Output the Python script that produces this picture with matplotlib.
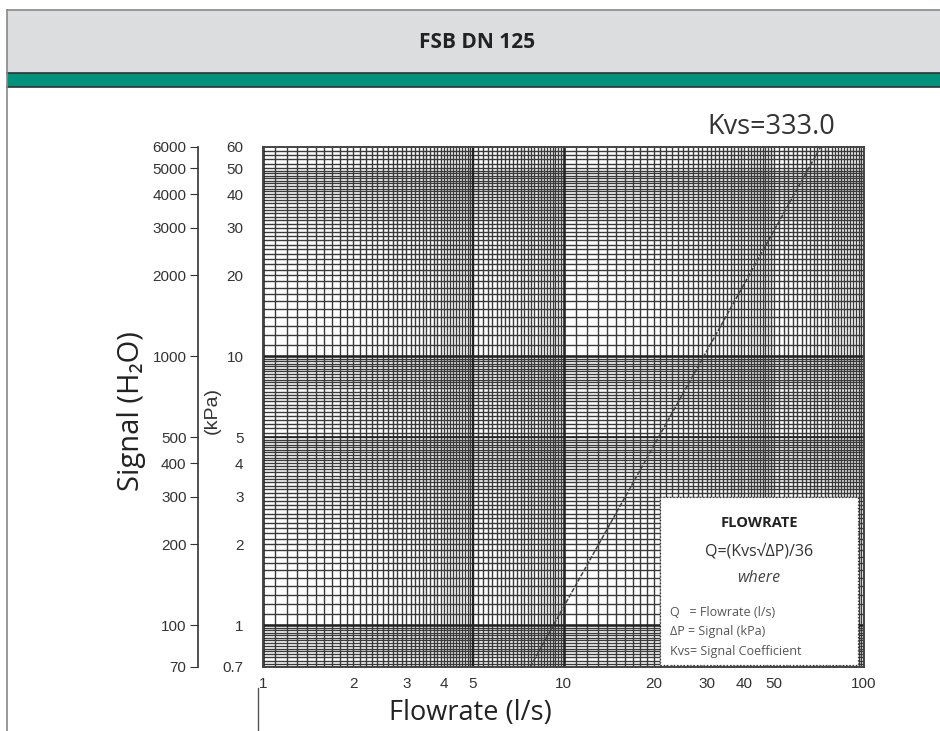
import numpy as np
import matplotlib
matplotlib.use("Agg")
import matplotlib.pyplot as plt
from matplotlib.patches import Rectangle

# --- chart values ---
x_ticks = [1, 2, 3, 4, 5, 10, 20, 30, 40, 50, 100]
kpa_ticks = [0.7, 1, 2, 3, 4, 5, 10, 20, 30, 40, 50, 60]
kpa_labels = ["0.7", "1", "2", "3", "4", "5", "10", "20", "30", "40", "50", "60"]
h2o_ticks = [70, 100, 200, 300, 400, 500, 1000, 2000, 3000, 4000, 5000, 6000]

# Kvs = 333.0 curve
line_signal = [0.7, 1, 10, 60]        # kPa
line_flow = [7.75, 9.25, 29.3, 71.7]  # l/s

title = "FSB DN 125"
kvs_text = "Kvs=333.0"

W, H = 940, 731
fig = plt.figure(figsize=(W / 100, H / 100), dpi=100)

def fx(px):
    return px / W

def fy(py):
    return 1 - py / H

# header band
fig.patches.append(Rectangle((fx(7), fy(73)), 1, (73 - 10) / H, transform=fig.transFigure,
                             facecolor="#dcdddf", edgecolor="none"))
fig.patches.append(Rectangle((fx(7), fy(87)), 1, (87 - 73) / H, transform=fig.transFigure,
                             facecolor="#00927b", edgecolor="none"))
for yy, c in [(10, "#888888"), (73, "#333333"), (87, "#333333")]:
    fig.add_artist(plt.Line2D([fx(7), 1], [fy(yy), fy(yy)], transform=fig.transFigure,
                              color=c, lw=1.2))
fig.add_artist(plt.Line2D([fx(7), fx(7)], [fy(10), 0], transform=fig.transFigure,
                          color="#888888", lw=1.2))
fig.add_artist(plt.Line2D([fx(258), fx(258)], [fy(688), 0], transform=fig.transFigure,
                          color="#555555", lw=1))
fig.text(fx(477), fy(43), title, ha="center", va="center", fontsize=15,
         fontweight="bold", family=["Open Sans"], color="#222222")

# main grid axes (kPa)
ax = fig.add_axes([fx(263), fy(667), fx(864) - fx(263), fy(147) - fy(667)])
ax.set_xscale("log")
ax.set_yscale("log")
ax.set_xlim(1, 100)
ax.set_ylim(0.7, 60)

def paper(d):
    return np.concatenate([np.arange(1, 2, 0.1), np.arange(2, 5, 0.1),
                           np.arange(5, 10, 0.2)]) * d

gc = "#3a3a3a"
xs = np.concatenate([paper(1), paper(10)])
ax.vlines(xs, 0.7, 60, color=gc, lw=1.0)
ys = np.concatenate([paper(0.1), paper(1), paper(10)])
ys = ys[(ys >= 0.7) & (ys <= 60)]
ax.hlines(ys, 1, 100, color=gc, lw=1.0)
for v in [1, 10, 100]:
    ax.axvline(v, color="#222222", lw=1.8)
for v in [1, 10]:
    ax.axhline(v, color="#222222", lw=1.8)
ax.axvline(5, color="#222222", lw=1.5)
ax.axhline(5, color="#222222", lw=1.2)

ax.plot(line_flow, line_signal, color="#444444", lw=1.1, ls=(0, (3, 1)), zorder=3)

for s in ax.spines.values():
    s.set_color("#444444")
    s.set_linewidth(1.4)

ax.set_xticks(x_ticks)
ax.set_xticklabels([str(v) for v in x_ticks])
ax.xaxis.set_minor_locator(matplotlib.ticker.NullLocator())
ax.tick_params(axis="x", length=0, pad=7, labelsize=11, labelcolor="#333333")
ax.set_yticks(kpa_ticks)
ax.set_yticklabels(kpa_labels)
ax.yaxis.set_minor_locator(matplotlib.ticker.NullLocator())
ax.tick_params(axis="y", length=0, pad=14, labelsize=11, labelcolor="#333333")
for t in ax.get_xticklabels() + ax.get_yticklabels():
    t.set_family("Liberation Sans")

# H2O axis
ax2 = ax.twinx()
ax2.set_yscale("log")
ax2.set_ylim(70, 6000)
ax2.yaxis.tick_left()
ax2.spines["left"].set_position(("outward", 47))
for k in ["right", "top", "bottom"]:
    ax2.spines[k].set_visible(False)
ax2.spines["left"].set_color("#333333")
ax2.spines["left"].set_linewidth(1.2)
ax2.set_yticks(h2o_ticks)
ax2.set_yticklabels([str(v) for v in h2o_ticks])
ax2.yaxis.set_minor_locator(matplotlib.ticker.NullLocator())
ax2.tick_params(axis="y", length=6, pad=2, labelsize=11, labelcolor="#333333", color="#333333")
for t in ax2.get_yticklabels():
    t.set_family("Liberation Sans")

# info box
ax.add_patch(Rectangle((fx(660), fy(665)), fx(858) - fx(660), (665 - 497) / H,
                       transform=fig.transFigure, facecolor="white", edgecolor="#333333",
                       lw=0.9, ls=":", zorder=5))
bf = ["Open Sans", "DejaVu Sans"]
fig.text(fx(759), fy(523), "FLOWRATE", ha="center", va="center", fontsize=10.5,
         fontweight="bold", family=bf, color="#222222", zorder=6)
fig.text(fx(759), fy(551), "Q=(Kvs\u221a\u0394P)/36", ha="center", va="center", fontsize=11.5,
         family=bf, color="#333333", zorder=6)
fig.text(fx(759), fy(578), "where", ha="center", va="center", fontsize=11.5,
         style="italic", family=bf, color="#444444", zorder=6)
for yy, s in [(613, "Q   = Flowrate (l/s)"), (632, "\u0394P = Signal (kPa)"),
              (651, "Kvs= Signal Coefficient")]:
    fig.text(fx(670), fy(yy), s, ha="left", va="center", fontsize=9, family=bf,
             color="#555555", zorder=6)

# labels
fig.text(fx(771), fy(127), kvs_text, ha="center", va="center", fontsize=19.5,
         family=bf, color="#333333")
fig.text(fx(131), fy(411), "Signal (H\u2082O)", ha="center", va="center", fontsize=21,
         rotation=90, family=bf, color="#222222")
fig.text(fx(212), fy(411), "(kPa)", ha="center", va="center", fontsize=14,
         rotation=90, family=["Liberation Sans"], color="#333333")
fig.text(fx(470), fy(713), "Flowrate (l/s)", ha="center", va="center", fontsize=19.5,
         family=bf, color="#222222")

fig.savefig("out.png", dpi=100)
